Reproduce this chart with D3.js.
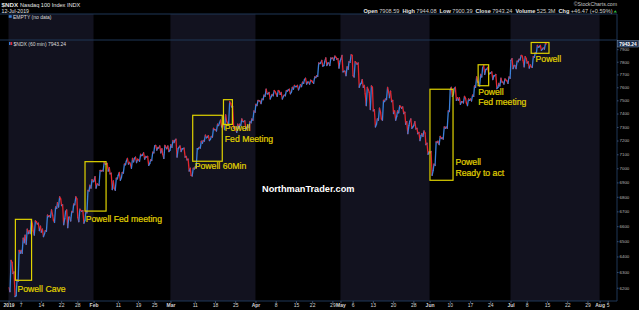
<!DOCTYPE html>
<html>
<head>
<meta charset="utf-8">
<script src="https://cdn.jsdelivr.net/npm/d3@7"></script>
<style>
  body { margin: 0; background: #000; }
  svg { display: block; font-family: "Liberation Sans", Arial, sans-serif; }
</style>
</head>
<body>
<svg id="chart" width="639" height="310"></svg>
<script>

//daily OHLC of $NDX, 2019-01-02 .. 2019-07-12 (one value per trading day)
var opens = [6200,6290,6250,6440,6540,6570,6570,6615,6560,6570,
  6670,6640,6760,6740,6700,6660,6750,6660,6700,6700,
  6880,6910,6885,6985,7030,6960,6860,6950,6970,7050,
  7030,7070,7060,7095,7080,7060,7160,7145,7100,7140,
  7170,7200,7150,7140,7060,6950,7010,7150,7200,7225,
  7230,7280,7330,7315,7330,7450,7280,7320,7340,7310,
  7360,7470,7495,7540,7550,7545,7550,7545,7540,7580,
  7600,7605,7620,7660,7640,7640,7690,7790,7800,7790,
  7830,7820,7820,7725,7800,7690,7780,7630,7550,7560,
  7420,7360,7360,7510,7520,7400,7420,7440,7320,7340,
  7310,7250,7250,7170,7110,7030,7195,7220,7300,7580,
  7590,7500,7490,7480,7510,7610,7640,7750,7740,7710,
  7690,7630,7640,7650,7810,7770,7820,7810,7790,7760,
  7870,7920,7910];
var highs = [6375,6300,6440,6520,6580,6640,6635,6620,6580,6675,
  6710,6730,6800,6745,6710,6700,6800,6715,6705,6845,
  6920,6940,6985,7040,7035,6965,6930,6970,7030,7070,
  7070,7080,7100,7110,7085,7115,7165,7160,7165,7160,
  7200,7210,7160,7145,7065,7000,7140,7195,7240,7235,
  7290,7320,7350,7390,7490,7455,7320,7360,7345,7340,
  7420,7500,7510,7585,7560,7575,7575,7560,7575,7585,
  7615,7615,7640,7670,7655,7680,7790,7810,7830,7830,
  7845,7825,7850,7760,7855,7800,7790,7660,7600,7610,
  7430,7440,7500,7600,7570,7420,7460,7450,7340,7360,
  7340,7260,7270,7180,7120,7190,7230,7300,7420,7600,
  7600,7520,7530,7510,7540,7680,7700,7770,7755,7720,
  7700,7670,7665,7680,7825,7805,7850,7840,7800,7840,
  7930,7930,7945];
var lows = [6175,6145,6240,6420,6480,6550,6540,6570,6530,6565,
  6660,6625,6730,6610,6590,6635,6745,6630,6620,6690,
  6860,6860,6880,6980,6980,6850,6845,6915,6965,7030,
  7000,7040,7050,7065,7020,7055,7130,7110,7070,7120,
  7150,7080,7120,7080,6980,6945,7005,7145,7195,7200,
  7225,7270,7300,7280,7320,7290,7260,7310,7280,7295,
  7350,7460,7475,7530,7510,7535,7530,7510,7535,7550,
  7585,7580,7605,7625,7625,7630,7685,7765,7770,7770,
  7810,7750,7720,7690,7795,7680,7600,7600,7460,7430,
  7300,7350,7350,7505,7490,7350,7405,7400,7250,7290,
  7285,7200,7230,7100,6950,7020,7170,7210,7290,7530,
  7500,7470,7480,7460,7495,7600,7610,7700,7700,7660,
  7590,7610,7625,7630,7745,7745,7815,7760,7750,7755,
  7865,7890,7900];
var closes = [6360,6150,6420,6490,6550,6615,6630,6600,6550,6665,
  6675,6720,6785,6650,6660,6695,6785,6705,6640,6840,
  6905,6890,6980,7030,7005,6910,6925,6935,7025,7042,
  7045,7065,7090,7085,7035,7110,7150,7140,7150,7130,
  7185,7140,7140,7085,7000,6995,7140,7180,7220,7210,
  7280,7310,7320,7340,7475,7300,7290,7340,7300,7330,
  7410,7495,7505,7550,7530,7565,7570,7530,7570,7565,
  7605,7600,7630,7640,7650,7675,7785,7770,7790,7825,
  7835,7805,7725,7740,7850,7790,7625,7615,7580,7600,
  7320,7410,7490,7565,7500,7380,7450,7410,7310,7300,
  7290,7235,7255,7120,6985,7185,7215,7290,7415,7545,
  7520,7490,7515,7500,7530,7640,7680,7740,7710,7690,
  7600,7640,7655,7670,7770,7800,7845,7825,7775,7835,
  7915,7900,7943];

//market holidays (no bars)
var holidays = ["2019-01-21","2019-02-18","2019-04-19","2019-05-27","2019-07-04"];

//months, for the shaded background
var monthStarts = ["2019-01-02","2019-02-01","2019-03-01","2019-04-01","2019-05-01","2019-06-03","2019-07-01","2019-08-01","2019-08-09"];

//x tick labels
var xTickDates = ["2019-01-02","2019-01-07","2019-01-14","2019-01-22","2019-01-28","2019-02-01","2019-02-11","2019-02-19","2019-02-25",
  "2019-03-01","2019-03-11","2019-03-18","2019-03-25","2019-04-01","2019-04-08","2019-04-15","2019-04-22","2019-04-29",
  "2019-05-01","2019-05-06","2019-05-13","2019-05-20","2019-05-28","2019-06-03","2019-06-10","2019-06-17","2019-06-24",
  "2019-07-01","2019-07-08","2019-07-15","2019-07-22","2019-07-29","2019-08-01","2019-08-05"];
var xTickLabels = ["2019","7","14","22","28","Feb","11","19","25",
  "Mar","11","18","25","Apr","8","15","22","29",
  "May","6","13","20","28","Jun","10","17","24",
  "Jul","8","15","22","29","Aug","5"];
var boldTicks = ["2019","Feb","Mar","Apr","May","Jun","Jul","Aug"];

//y tick labels
var yTicks = [6200,6300,6400,6500,6600,6700,6800,6900,7000,7100,7200,7300,7400,7500,7600,7700,7800,7900];

//annotations: trading-day span and price span of each box
var annLabels = [["Powell Cave"],["Powell Fed meeting"],["Powell 60Min"],["Powell","Fed Meeting"],["Powell","Ready to act"],["Powell","Fed meeting"],["Powell"]];
var annStart = [1.7, 18.9, 45.5, 53.1, 104.1, 116.0, 129.1];
var annEnd   = [5.7, 24.1, 52.8, 55.3, 109.8, 118.6, 133.5];
var annLow   = [6247, 6702, 7050, 7319, 6915, 7612, 7867];
var annHigh  = [6646, 7047, 7387, 7505, 7585, 7776, 7954];

var lastValue = 7943.24;


//****LAYOUT
var svg = d3.select("#chart"),
    left = 8.5, right = 617,
    top1 = 14, top2 = 40, bottom = 301,
    yellow = "#e0d300",
    lineCol = "#1f3656";

//trading calendar: weekdays without holidays
var fmt = d3.timeFormat("%Y-%m-%d");
var tradingDays = d3.timeDay.range(new Date(2019, 0, 2), new Date(2019, 7, 12))
  .filter(function(d){ var w = d.getDay(); return w > 0 && w < 6 && holidays.indexOf(fmt(d)) < 0; })
  .map(fmt);
function dayIndex(s){ return tradingDays.indexOf(s); }

//****SCALES
var x = d3.scaleLinear().domain([0, 150.3]).range([left, right]);
var y = d3.scaleLog().domain([6117, 7974]).range([bottom, top2]);

//****BACKGROUND bands
var bands = svg.append("g");
for (var m = 0; m < monthStarts.length - 1; m += 2) {
  var x0 = Math.max(8, x(dayIndex(monthStarts[m]))),
      x1 = Math.min(right, x(dayIndex(monthStarts[m + 1])));
  bands.append("rect")
    .attr("x", x0).attr("y", top1)
    .attr("width", x1 - x0).attr("height", bottom - top1)
    .attr("fill", "#12121f");
}

//panel frame lines
[top1, top2, bottom].forEach(function(yy){
  svg.append("line").attr("x1", 0).attr("x2", right).attr("y1", yy).attr("y2", yy)
    .attr("stroke", lineCol).attr("stroke-width", 1);
});
svg.append("line").attr("x1", right).attr("x2", right).attr("y1", top1).attr("y2", bottom)
  .attr("stroke", lineCol).attr("stroke-width", 1);

//****HEADER
var hdr = svg.append("g").attr("fill", "#e6e6e6");
var t1 = hdr.append("text").attr("x", 1.5).attr("y", 7).style("font-size", "5.6px");
t1.append("tspan").attr("font-weight", "bold").style("font-size", "6.2px").text("$NDX");
t1.append("tspan").attr("dx", 2).text("Nasdaq 100 Index  INDX");
hdr.append("text").attr("x", 1.5).attr("y", 12.6).style("font-size", "5.2px").text("12-Jul-2019");

hdr.append("text").attr("x", right).attr("y", 6.3).attr("text-anchor", "end")
  .attr("fill", "#c8c8c8").style("font-size", "5.2px").text("\u00A9StockCharts.com");

var quote = [["Open","7908.59"],["High","7944.08"],["Low","7900.39"],["Close","7943.24"],["Volume","525.3M"],["Chg","+46.47 (+0.59%)"]];
var t2 = hdr.append("text").attr("x", right - 4.5).attr("y", 12.6).attr("text-anchor", "end").style("font-size", "5.6px");
quote.forEach(function(q, i){
  t2.append("tspan").attr("font-weight", "bold").attr("dx", i ? 3 : 0).text(q[0]);
  t2.append("tspan").attr("dx", 1.5).attr("fill", "#d0d0d0").text(q[1]);
});
svg.append("path").attr("d", "M613.5,12.6L617,12.6L615.25,10.2Z").attr("fill", "#2ec040");

//legends
svg.append("rect").attr("x", 8.7).attr("y", 15.2).attr("width", 3).attr("height", 2.6).attr("fill", "#3a7fd8");
svg.append("text").attr("x", 13).attr("y", 18.6).attr("fill", "#dddddd").style("font-size", "5px").text("EMPTY (no data)");
svg.append("rect").attr("x", 9).attr("y", 42).attr("width", 1.6).attr("height", 3).attr("fill", "#3a7fd8");
svg.append("rect").attr("x", 10.6).attr("y", 42).attr("width", 1.6).attr("height", 3).attr("fill", "#e3262e");
svg.append("text").attr("x", 13.5).attr("y", 45.6).attr("fill", "#dddddd").style("font-size", "5px").text("$NDX (60 min) 7943.24");

//****PRICE TRACE
//each session is traced open -> low/high -> high/low -> close inside its slot,
//every leg coloured by direction like the intraday bars
svg.append("defs").append("clipPath").attr("id", "clip")
  .append("rect").attr("x", left).attr("y", top2).attr("width", right - left).attr("height", bottom - top2);

var upCol = "#3b80da", downCol = "#e3262e";
var pts = [];
closes.forEach(function(c, i){
  var o = opens[i], up = c >= o;
  pts.push([i + 0.1, o]);
  pts.push([i + 0.37, up ? lows[i] : highs[i]]);
  pts.push([i + 0.63, up ? highs[i] : lows[i]]);
  pts.push([i + 0.9, c]);
});

var trace = svg.append("g").attr("clip-path", "url(#clip)");
trace.selectAll("line.leg")
  .data(d3.pairs(pts))
  .enter().append("line")
  .attr("class", "leg")
  .attr("x1", function(d){ return x(d[0][0]); })
  .attr("y1", function(d){ return y(d[0][1]); })
  .attr("x2", function(d){ return x(d[1][0]); })
  .attr("y2", function(d){ return y(d[1][1]); })
  .attr("stroke", function(d){ return d[1][1] >= d[0][1] ? upCol : downCol; })
  .attr("stroke-width", 1.3)
  .attr("stroke-linecap", "round");

//****AXES
var xAxis = d3.axisBottom(x)
  .tickValues(xTickDates.map(dayIndex))
  .tickFormat(function(d, i){ return xTickLabels[i]; })
  .tickSize(2).tickPadding(0.6);
var gx = svg.append("g").attr("transform", "translate(0," + bottom + ")").call(xAxis);
gx.select(".domain").remove();
gx.selectAll("line").attr("stroke", "#3a5070");
gx.selectAll("text").attr("fill", "#d4d4d4").style("font-size", "5px")
  .attr("font-weight", function(d, i){ return boldTicks.indexOf(xTickLabels[i]) >= 0 ? "bold" : "normal"; });

var yAxis = d3.axisRight(y).tickValues(yTicks).tickFormat(d3.format("d")).tickSize(1.5).tickPadding(1);
var gy = svg.append("g").attr("transform", "translate(" + right + ",0)").call(yAxis);
gy.select(".domain").remove();
gy.selectAll("line").attr("stroke", "#3a5070");
gy.selectAll("text").attr("fill", "#b8b8b8").style("font-size", "4.4px");

//last value tag
var yl = y(lastValue);
svg.append("rect").attr("x", right + 0.5).attr("y", yl - 3.2).attr("width", 21).attr("height", 6.4)
  .attr("fill", "#1b2d4a").attr("stroke", "#7d96b8").attr("stroke-width", 0.5);
svg.append("text").attr("x", right + 11).attr("y", yl + 1.7).attr("text-anchor", "middle")
  .attr("fill", "#ffffff").attr("font-weight", "bold").style("font-size", "4.8px").text("7943.24");

//****ANNOTATIONS
//label placement relative to box: [side, dx, dy of first line centre]
var annPlace = [["below",2,8.7],["below",0.7,7.5],["below",2,5],["below",1.3,4],["right",2.4,-18],["below",0,5.8],["below",4.4,5.3]];
var ann = svg.append("g");
annLabels.forEach(function(lines, i){
  var bx0 = x(annStart[i]), bx1 = x(annEnd[i]), by0 = y(annHigh[i]), by1 = y(annLow[i]);
  ann.append("rect").attr("x", bx0).attr("y", by0).attr("width", bx1 - bx0).attr("height", by1 - by0)
    .attr("fill", "none").attr("stroke", yellow).attr("stroke-width", 1.2);
  var p = annPlace[i], tx = (p[0] === "right" ? bx1 : bx0) + p[1], ty = by1 + p[2];
  lines.forEach(function(s, k){
    ann.append("text").attr("x", tx).attr("y", ty + k * 10.3 + 3.1)
      .attr("fill", yellow).attr("stroke", yellow).attr("stroke-width", 0.2)
      .style("font-size", "8.7px").text(s);
  });
});

//watermark
svg.append("text").attr("x", 262).attr("y", 192).attr("fill", "#ffffff")
  .attr("font-weight", "bold").style("font-size", "9.2px").text("NorthmanTrader.com");

</script>
</body>
</html>
